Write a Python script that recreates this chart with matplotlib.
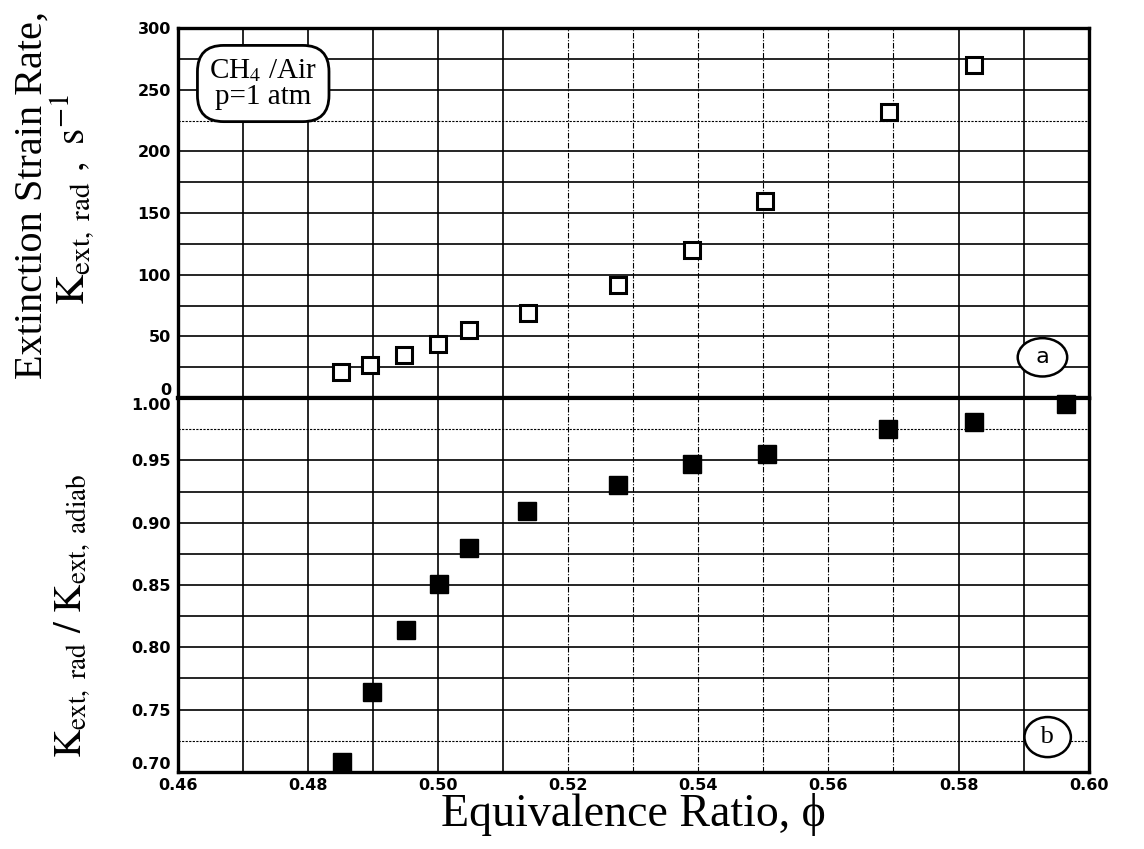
import matplotlib
matplotlib.use("Agg")
import matplotlib.pyplot as plt
import numpy as np

# (a) extinction strain rate with radiation, open squares
phi_rad = [0.4850, 0.4895, 0.4948, 0.5000, 0.5047, 0.5138, 0.5276, 0.5390, 0.5503, 0.5693, 0.5824]
k_rad = [21, 27, 35, 44, 55, 69, 92, 120, 160, 232, 270]

# (b) ratio K_rad / K_adiab, filled squares
phi_ratio = [0.4852, 0.4898, 0.4950, 0.5002, 0.5048, 0.5137, 0.5276, 0.5390, 0.5506, 0.5692, 0.5824, 0.5965]
ratio = [0.708, 0.764, 0.814, 0.851, 0.880, 0.909, 0.930, 0.947, 0.955, 0.975, 0.981, 0.995]

x_ticks = [0.46, 0.48, 0.50, 0.52, 0.54, 0.56, 0.58, 0.60]
top_ticks = [0, 50, 100, 150, 200, 250, 300]
bot_ticks = [0.70, 0.75, 0.80, 0.85, 0.90, 0.95, 1.00]

plt.rcParams["mathtext.fontset"] = "stix"
serif = ["Liberation Serif", "DejaVu Serif"]
tick_font = dict(family="DejaVu Sans", weight="bold", size=11.5)

fig = plt.figure(figsize=(11.44, 8.49), dpi=100)
ax_top = fig.add_axes([0.1556, 0.5312, 0.796, 0.4358])
ax_bot = fig.add_axes([0.1556, 0.0907, 0.796, 0.4405])

x_grid = np.round(np.arange(0.47, 0.595, 0.01), 2)
for ax, y_grid, dotted in [
    (ax_top, np.arange(25, 300, 25), [225]),
    (ax_bot, np.round(np.arange(0.725, 1.0, 0.025), 3), [0.975, 0.725]),
]:
    for xv in x_grid:
        dashed = 0.515 < xv < 0.575
        ax.axvline(xv, color="black", lw=0.8 if dashed else 1.2,
                   ls=(0, (5, 1.5, 1, 1.5)) if dashed else "-", zorder=1)
    for yv in y_grid:
        is_dot = any(abs(yv - d) < 1e-6 for d in dotted)
        ax.axhline(yv, color="black", lw=0.8 if is_dot else 1.2,
                   ls=(0, (2, 1.2)) if is_dot else "-", zorder=1)

ax_top.plot(phi_rad, k_rad, ls="none", marker="s", ms=11, mfc="white",
            mec="black", mew=2.2, zorder=3)
ax_bot.plot(phi_ratio, ratio, ls="none", marker="s", ms=12.5, mfc="black",
            mec="black", zorder=3, clip_on=False)

ax_top.set_ylim(0, 300)
ax_bot.set_ylim(0.70, 1.00)
for ax in (ax_top, ax_bot):
    ax.set_xlim(0.46, 0.60)
    for sp in ax.spines.values():
        sp.set_linewidth(2.4)
    ax.tick_params(length=0, pad=5)
ax_top.spines["bottom"].set_linewidth(3.0)
ax_bot.spines["top"].set_linewidth(3.0)

ax_top.set_xticks([])
ax_top.set_yticks(top_ticks)
ax_top.set_yticklabels([str(t) for t in top_ticks], fontdict=tick_font)
ax_bot.set_yticks(bot_ticks)
ax_bot.set_yticklabels([f"{t:.2f}" for t in bot_ticks], fontdict=tick_font)
ax_bot.set_xticks(x_ticks)
ax_bot.set_xticklabels([f"{t:.2f}" for t in x_ticks], fontdict=tick_font)
ax_bot.tick_params(axis="x", pad=4)

# the stacked labels at the shared corners sit apart, as in the print
ax_top.get_yticklabels()[0].set_va("bottom")
ax_bot.get_yticklabels()[-1].set_va("top")
ax_bot.get_yticklabels()[0].set_va("bottom")

ax_bot.set_xlabel("Equivalence Ratio, \u03d5", family=serif, fontsize=33, labelpad=0)

fig.text(0.028, 0.77, "Extinction Strain Rate,", rotation=90, family=serif,
         fontsize=29, ha="center", va="center")
fig.text(0.064, 0.765, r"$\mathrm{K_{ext,\ rad}\ ,\ s^{-1}}$", rotation=90,
         fontsize=30, ha="center", va="center")
fig.text(0.064, 0.275, r"$\mathrm{K_{ext,\ rad}\ /\ K_{ext,\ adiab}}$", rotation=90,
         fontsize=28, ha="center", va="center")

ax_top.text(0.4731, 255, "CH$_4$ /Air\np=1 atm", family=serif, fontsize=21,
            ha="center", va="center", linespacing=1.0, zorder=5,
            bbox=dict(boxstyle="round,pad=0.4,rounding_size=0.9", fc="white",
                      ec="black", lw=2.0))
ax_top.text(0.5929, 33, " a ", family="DejaVu Sans", fontsize=16, ha="center",
            va="center", zorder=5,
            bbox=dict(boxstyle="ellipse,pad=0.16", fc="white", ec="black", lw=1.8))
ax_bot.text(0.5937, 0.728, " b ", family=serif, fontsize=19, ha="center",
            va="center", zorder=5,
            bbox=dict(boxstyle="ellipse,pad=0.12", fc="white", ec="black", lw=1.8))

fig.savefig("out.png", dpi=100)
